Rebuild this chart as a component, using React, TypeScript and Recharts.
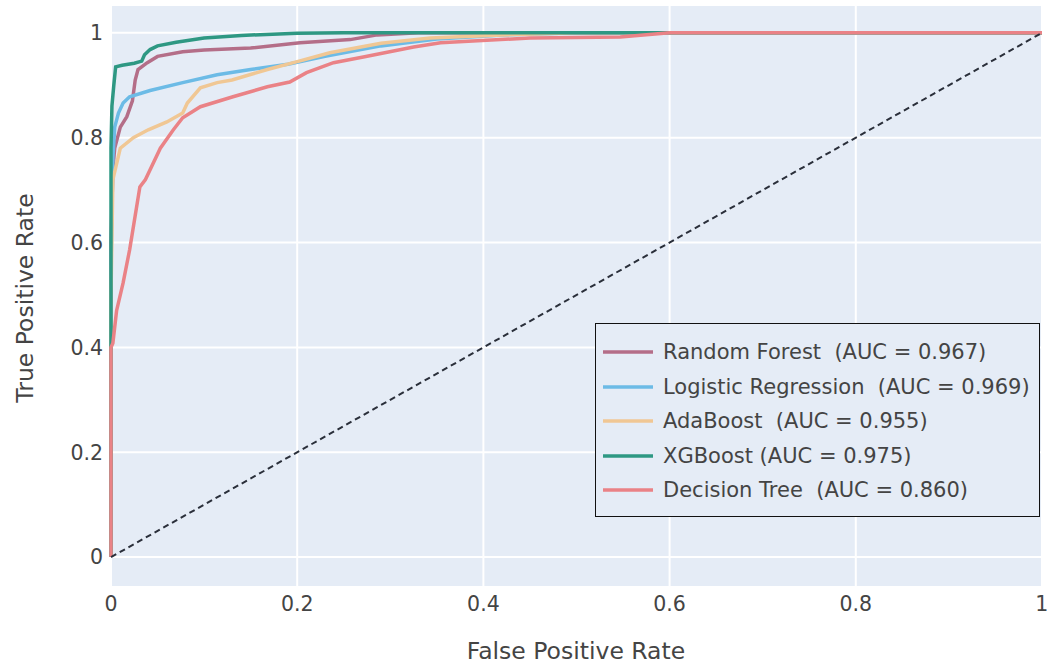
import React from 'react';
import { LineChart, Line, XAxis, YAxis, CartesianGrid, Legend } from 'recharts';

// ---- data ----
const rfFpr = [0, 0, 0.002, 0.004, 0.01, 0.017, 0.023, 0.026, 0.029, 0.039, 0.05, 0.077, 0.1, 0.15, 0.203, 0.257, 0.286, 0.33, 1];
const rfTpr = [0, 0.6, 0.74, 0.78, 0.82, 0.84, 0.87, 0.91, 0.93, 0.943, 0.955, 0.964, 0.967, 0.971, 0.981, 0.987, 0.996, 1, 1];

const lrFpr = [0, 0, 0.002, 0.004, 0.008, 0.013, 0.02, 0.042, 0.077, 0.114, 0.15, 0.19, 0.23, 0.29, 0.35, 0.42, 0.5, 1];
const lrTpr = [0, 0.55, 0.76, 0.82, 0.847, 0.866, 0.878, 0.89, 0.905, 0.92, 0.93, 0.94, 0.955, 0.975, 0.988, 0.996, 1, 1];

const adaFpr = [0, 0, 0.002, 0.01, 0.024, 0.04, 0.06, 0.077, 0.082, 0.096, 0.114, 0.13, 0.168, 0.2, 0.235, 0.29, 0.343, 0.42, 0.5, 1];
const adaTpr = [0, 0.5, 0.72, 0.78, 0.8, 0.815, 0.83, 0.847, 0.866, 0.895, 0.905, 0.91, 0.93, 0.945, 0.962, 0.98, 0.99, 0.996, 1, 1];

const xgbFpr = [0, 0, 0, 0.001, 0.003, 0.005, 0.012, 0.025, 0.033, 0.036, 0.042, 0.05, 0.07, 0.1, 0.14, 0.2, 0.25, 1];
const xgbTpr = [0, 0.4, 0.78, 0.86, 0.9, 0.935, 0.938, 0.942, 0.946, 0.958, 0.968, 0.975, 0.982, 0.99, 0.995, 0.999, 1, 1];

const dtFpr = [0, 0, 0.002, 0.006, 0.013, 0.02, 0.031, 0.037, 0.053, 0.067, 0.077, 0.096, 0.131, 0.168, 0.192, 0.21, 0.239, 0.271, 0.325, 0.354, 0.45, 0.547, 0.6, 1];
const dtTpr = [0, 0.4, 0.408, 0.47, 0.523, 0.586, 0.706, 0.72, 0.78, 0.815, 0.838, 0.859, 0.878, 0.897, 0.906, 0.924, 0.943, 0.954, 0.973, 0.981, 0.99, 0.992, 1, 1];

const diagFpr = [0, 1];
const diagTpr = [0, 1];

const seriesNames = [
  'Random Forest  (AUC = 0.967)',
  'Logistic Regression  (AUC = 0.969)',
  'AdaBoost  (AUC = 0.955)',
  'XGBoost (AUC = 0.975)',
  'Decision Tree  (AUC = 0.860)',
];
const seriesColors = ['#b46e88', '#6cbbe6', '#f0c794', '#2e9883', '#ea8286'];

const xTicks = [0, 0.2, 0.4, 0.6, 0.8, 1];
const yTicks = [0, 0.2, 0.4, 0.6, 0.8, 1];

const toPoints = (xs: number[], ys: number[]) => xs.map((x, i) => ({ x, y: ys[i] }));

const seriesData = [
  toPoints(rfFpr, rfTpr),
  toPoints(lrFpr, lrTpr),
  toPoints(adaFpr, adaTpr),
  toPoints(xgbFpr, xgbTpr),
  toPoints(dtFpr, dtTpr),
];
const diagData = toPoints(diagFpr, diagTpr);

const FONT = '"DejaVu Sans", Verdana, sans-serif';
const TEXT = '#444';

const renderLegend = () => (
  <div
    style={{
      boxSizing: 'border-box',
      width: 445,
      height: 194,
      border: '1.5px solid #111',
      background: '#e5ecf6',
      padding: '11px 0 0 7px',
      fontFamily: FONT,
      fontSize: 21,
      color: TEXT,
    }}
  >
    {seriesNames.map((name, i) => (
      <div key={name} style={{ display: 'flex', alignItems: 'center', height: 34.5 }}>
        <svg width={50} height={6} style={{ marginRight: 10, flex: 'none' }}>
          <line x1={0} y1={3} x2={50} y2={3} stroke={seriesColors[i]} strokeWidth={3.5} />
        </svg>
        <span style={{ whiteSpace: 'pre' }}>{name}</span>
      </div>
    ))}
  </div>
);

export default function App() {
  return (
    <div style={{ position: 'absolute', left: 0, top: 0, width: 1047, height: 666, background: '#fff' }}>
      <LineChart width={1047} height={666} margin={{ top: 5, right: 5, left: 0, bottom: 0 }}>
        <CartesianGrid stroke="#ffffff" strokeWidth={2} fill="#e5ecf6" fillOpacity={1} />
        <XAxis
          type="number"
          dataKey="x"
          domain={[0, 1]}
          ticks={xTicks}
          tickFormatter={(v: number) => String(v)}
          height={79}
          axisLine={false}
          tickLine={false}
          tickSize={4}
          tickMargin={5}
          tick={{ fill: TEXT, fontSize: 20.5, fontFamily: FONT }}
          label={{
            content: () => (
              <text x={576} y={659} textAnchor="middle" fill={TEXT} fontSize={23.5} fontFamily={FONT}>
                False Positive Rate
              </text>
            ),
          }}
        />
        <YAxis
          type="number"
          dataKey="y"
          domain={[-0.057, 1.053]}
          ticks={yTicks}
          tickFormatter={(v: number) => String(v)}
          width={111}
          axisLine={false}
          tickLine={false}
          tickSize={4}
          tickMargin={4}
          allowDataOverflow
          tick={{ fill: TEXT, fontSize: 20.5, fontFamily: FONT }}
          label={{
            content: () => (
              <text
                x={33}
                y={298}
                transform="rotate(-90 33 298)"
                textAnchor="middle"
                fill={TEXT}
                fontSize={23.5}
                fontFamily={FONT}
              >
                True Positive Rate
              </text>
            ),
          }}
        />
        {seriesData.map((d, i) => (
          <Line
            key={seriesNames[i]}
            name={seriesNames[i]}
            data={d}
            dataKey="y"
            type="linear"
            stroke={seriesColors[i]}
            strokeWidth={3.5}
            dot={false}
            activeDot={false}
            isAnimationActive={false}
          />
        ))}
        <Line
          name="chance"
          data={diagData}
          dataKey="y"
          type="linear"
          stroke="#2a2f3a"
          strokeWidth={2}
          strokeDasharray="6 4"
          dot={false}
          activeDot={false}
          legendType="none"
          isAnimationActive={false}
        />
        <Legend
          layout="horizontal"
          align="center"
          verticalAlign="middle"
          content={renderLegend}
          wrapperStyle={{ left: 595, top: 323, width: 445, height: 194 }}
        />
      </LineChart>
    </div>
  );
}
